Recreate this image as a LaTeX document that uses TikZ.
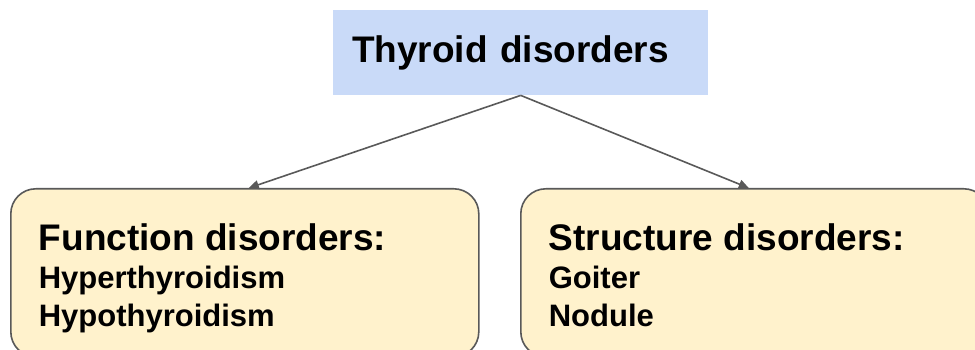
\documentclass[tikz,border=0pt]{standalone}
\usepackage{fontspec}
\setmainfont{Liberation Sans}
\definecolor{thyblue}{RGB}{201, 218, 248}
\definecolor{thyyellow}{RGB}{255, 242, 204}
\definecolor{edgegray}{RGB}{89, 89, 89}
\usetikzlibrary{shapes, arrows.meta, positioning, calc}

\begin{document}
\begin{tikzpicture}[x=1pt, y=1pt,
  groupbox/.style={draw=edgegray, line width=1.6pt, fill=thyyellow, rounded corners=25pt,
    anchor=north west, text width=412pt, inner xsep=28pt, inner ysep=0pt, align=left,
    font=\bfseries\fontsize{31}{38}\selectfont},
  branch/.style={draw=edgegray, line width=1.6pt, -{Triangle[length=10pt, width=9pt]}}]
  \useasboundingbox (0,0) rectangle (975,-350);

  % root
  \node[fill=thyblue, anchor=north west, minimum width=375pt, minimum height=85pt,
    text width=337pt, inner xsep=19pt, align=left,
    font=\bfseries\fontsize{37}{44}\selectfont] (thyroid) at (333,-10) {Thyroid disorders};

  % the two groups
  \node[groupbox] (func) at (10,-188) {\rule{0pt}{62pt}{\fontsize{37}{44}\selectfont Function disorders:}\\
    Hyperthyroidism\\
    Hypothyroidism\rule[-30pt]{0pt}{30pt}};
  \node[groupbox] (struct) at (520,-188) {\rule{0pt}{62pt}{\fontsize{37}{44}\selectfont Structure disorders:}\\
    Goiter\\
    Nodule\rule[-30pt]{0pt}{30pt}};

  \draw[branch] (thyroid.south) -- ($(func.north)+(4,0)$);
  \draw[branch] (thyroid.south) -- ($(struct.north)+(-6,0)$);
\end{tikzpicture}
\end{document}
